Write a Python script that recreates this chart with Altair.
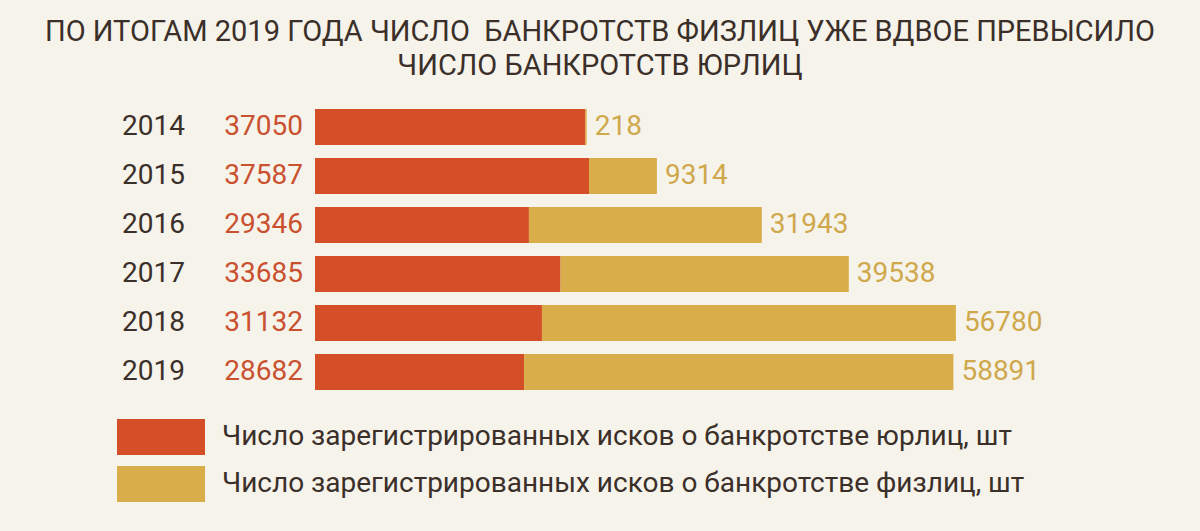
import altair as alt
import pandas as pd

years = ["2014", "2015", "2016", "2017", "2018", "2019"]
legal = [37050, 37587, 29346, 33685, 31132, 28682]
individual = [218, 9314, 31943, 39538, 56780, 58891]
series_names = [
    "Число зарегистрированных исков о банкротстве юрлиц, шт",
    "Число зарегистрированных исков о банкротстве физлиц, шт",
]
title_lines = [
    "ПО ИТОГАМ 2019 ГОДА ЧИСЛО\u00a0 БАНКРОТСТВ ФИЗЛИЦ УЖЕ ВДВОЕ ПРЕВЫСИЛО",
    "ЧИСЛО БАНКРОТСТВ ЮРЛИЦ",
]

RED = "#d44e28"
YELLOW = "#d9ae4a"
RED_TXT = "#c9512f"
YEL_TXT = "#cfa84c"
DARK = "#3b2f29"
BG = "#f6f3eb"
FONT = "Roboto"

wide = pd.DataFrame({"year": years, "legal": legal, "individual": individual})
wide["total"] = wide["legal"] + wide["individual"]

long = pd.concat([
    pd.DataFrame({"year": years, "series": series_names[0], "value": legal, "ord": 0}),
    pd.DataFrame({"year": years, "series": series_names[1], "value": individual, "ord": 1}),
], ignore_index=True)

xscale = alt.Scale(domain=[0, 100000], range=[315, 1044])
yscale = alt.Scale(domain=years, range=[102.5, 396.5], paddingInner=0.265, paddingOuter=0.1325)

bars = alt.Chart(long).mark_bar().encode(
    y=alt.Y("year:N", scale=yscale, axis=None),
    x=alt.X("value:Q", stack="zero", scale=xscale, axis=None),
    order=alt.Order("ord:Q"),
    color=alt.Color(
        "series:N",
        scale=alt.Scale(domain=series_names, range=[RED, YELLOW]),
        legend=alt.Legend(
            title=None,
            orient="none",
            legendX=117,
            legendY=419,
            symbolType="M-1,-0.409H1V0.409H-1Z",
            symbolSize=7744,
            symbolStrokeWidth=0,
            symbolOpacity=1,
            clipHeight=36,
            rowPadding=11,
            labelFontSize=28,
            labelFont=FONT,
            labelColor=DARK,
            labelOffset=17,
            labelLimit=1000,
            padding=0,
        ),
    ),
)

year_text = alt.Chart(wide).mark_text(
    align="right", baseline="middle", fontSize=28, font=FONT, color=DARK
).encode(
    y=alt.Y("year:N", scale=yscale, axis=None),
    x=alt.value(185),
    text="year:N",
)

legal_text = alt.Chart(wide).mark_text(
    align="right", baseline="middle", fontSize=28, font=FONT, color=RED_TXT
).encode(
    y=alt.Y("year:N", scale=yscale, axis=None),
    x=alt.value(303),
    text="legal:Q",
)

ind_text = alt.Chart(wide).mark_text(
    align="left", baseline="middle", fontSize=28, font=FONT, color=YEL_TXT, dx=8
).encode(
    y=alt.Y("year:N", scale=yscale, axis=None),
    x=alt.X("total:Q", scale=xscale, axis=None),
    text="individual:Q",
)

title = alt.Chart(pd.DataFrame({"t": ["\n".join(title_lines)]})).mark_text(
    align="center", baseline="alphabetic", fontSize=29, font=FONT, color=DARK,
    lineBreak="\n", lineHeight=34,
).encode(
    x=alt.value(600),
    y=alt.value(41),
    text="t:N",
)

chart = alt.layer(bars, year_text, legal_text, ind_text, title).properties(
    width=1200,
    height=531,
    autosize=alt.AutoSizeParams(type="none"),
    padding=0,
    background=BG,
).configure_view(stroke=None)

chart.save("out.html", embed_options={"renderer": "svg", "actions": False})
